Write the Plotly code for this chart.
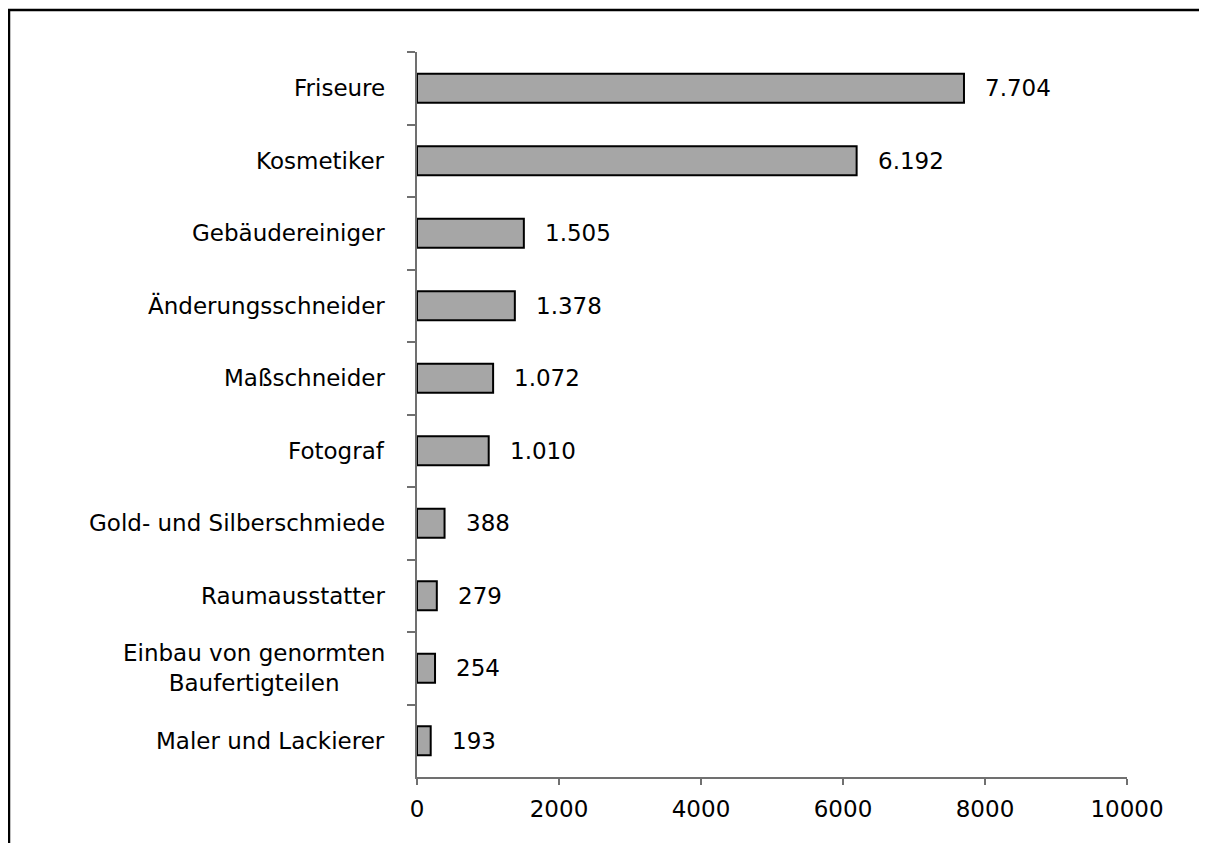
import plotly.graph_objects as go

categories = ["Friseure", "Kosmetiker", "Gebäudereiniger", "Änderungsschneider",
              "Maßschneider", "Fotograf", "Gold- und Silberschmiede", "Raumausstatter",
              "Einbau von genormten<br>Baufertigteilen", "Maler und Lackierer"]
values = [7704, 6192, 1505, 1378, 1072, 1010, 388, 279, 254, 193]
x_ticks = [0, 2000, 4000, 6000, 8000, 10000]

# page is rendered with an 8px body margin
OFF = 8
W, H = 1207, 843
L, R, T, B = 417 - OFF, 1207 - (1127 - OFF), 52 - OFF, 843 - (777 - OFF)
pw, ph = W - L - R, H - T - B
FONT = "DejaVu Sans"
FS = 23

def fmt(v):
    return f"{v:,}".replace(",", ".")

fig = go.Figure(go.Bar(
    x=values, y=categories, orientation="h",
    marker=dict(color="#A6A6A6", line=dict(color="black", width=2)),
    width=0.4, hoverinfo="skip",
))

ann = []
for c, v in zip(categories, values):
    ann.append(dict(x=v, y=c, xref="x", yref="y", text=fmt(v), showarrow=False,
                    xanchor="left", xshift=19, font=dict(family=FONT, size=FS, color="black")))
    ann.append(dict(x=0, y=c, xref="paper", yref="y", text=c, showarrow=False,
                    xanchor="right", xshift=-30, align="center",
                    font=dict(family=FONT, size=FS, color="black")))

def px2x(px):
    return (px - (L + OFF)) / pw

def py2y(py):
    return ((H - B + OFF) - py) / ph

fig.update_layout(
    width=W, height=H,
    margin=dict(l=L, r=R, t=T, b=B),
    paper_bgcolor="white", plot_bgcolor="white",
    showlegend=False,
    font=dict(family=FONT, size=FS, color="black"),
    annotations=ann,
    shapes=[dict(type="rect", xref="paper", yref="paper",
                 x0=px2x(9), x1=px2x(1240), y0=py2y(880), y1=py2y(10),
                 line=dict(color="black", width=2.5), fillcolor="rgba(0,0,0,0)", layer="below")],
    xaxis=dict(range=[0, 10000], tickvals=x_ticks, ticktext=[str(t) for t in x_ticks],
               showgrid=False, zeroline=False, showline=True, linecolor="#707070", linewidth=2,
               ticks="outside", ticklen=6, tickwidth=2, tickcolor="#707070",
               tickfont=dict(family=FONT, size=FS, color="black"), ticklabelstandoff=4),
    yaxis=dict(autorange="reversed", showgrid=False, zeroline=False, showline=True,
               linecolor="#707070", linewidth=2, ticks="outside", ticklen=8, tickwidth=2,
               tickcolor="#707070", tickson="boundaries", showticklabels=False),
)

fig.write_html("out.html")
